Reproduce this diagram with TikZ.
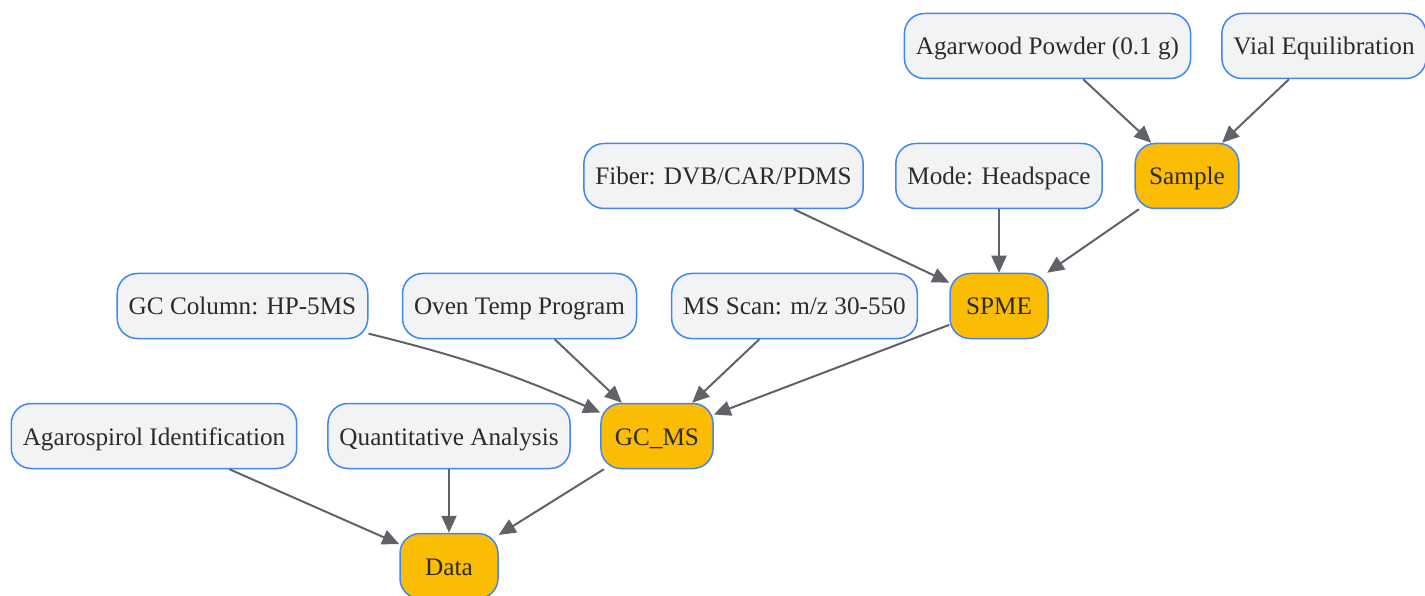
\documentclass[tikz,border=0pt]{standalone}
\usepackage{fontspec}
\setmainfont{Liberation Serif}
\usetikzlibrary{arrows.meta}

\definecolor{paramfill}{HTML}{F1F3F4}
\definecolor{stepfill}{HTML}{FBBC04}
\definecolor{boxline}{HTML}{4285F4}
\definecolor{edgegray}{HTML}{5F6368}
\definecolor{txt}{HTML}{2B2B2B}

\tikzset{
  param/.style={draw=boxline, fill=paramfill, line width=1.5pt, rounded corners=20pt,
    minimum height=65pt, inner xsep=11.5pt, text height=23pt, text depth=5pt, text=txt,
    font=\fontsize{25.2}{30}\selectfont},
  stage/.style={param, fill=stepfill, inner xsep=14pt, minimum width=98pt},
  flow/.style={draw=edgegray, line width=2pt, -{Triangle[length=17pt,width=15pt]}}
}

\begin{document}
\begin{tikzpicture}[x=1pt,y=1pt]% [ show background grid ]
\useasboundingbox (0,0) rectangle (1425,-596);

\node[param] (powder) at (1047.5,-46) {Agarwood Powder (0.1 g)};
\node[param] (vial) at (1324,-46) {Vial Equilibration};
\node[stage] (sample) at (1187,-176) {Sample};
\draw[flow] (powder) -- (sample);
\draw[flow] (vial) -- (sample);

\node[param] (fiber) at (723.5,-176) {Fiber: DVB/CAR/PDMS};
\node[param] (mode) at (999,-176) {Mode: Headspace};
\node[stage] (spme) at (999,-306) {SPME};
\draw[flow] (fiber) -- (spme);
\draw[flow] (mode) -- (spme);
\draw[flow] (sample) -- (spme);

\node[param] (column) at (242.5,-306) {GC Column: HP-5MS};
\node[param] (oven) at (519.5,-306) {Oven Temp Program};
\node[param] (scan) at (794.5,-306) {MS Scan: m/z 30-550};
\node[stage] (gcms) at (657,-436) {GC\_MS};
\draw[flow] (column) to[bend left=5] (gcms);
\draw[flow] (oven) -- (gcms);
\draw[flow] (scan) -- (gcms);
\draw[flow] (spme) -- (gcms);

\node[param] (ident) at (154,-436) {Agarospirol Identification};
\node[param] (quant) at (449,-436) {Quantitative Analysis};
\node[stage] (data) at (449,-566) {Data};
\draw[flow] (ident) -- (data);
\draw[flow] (quant) -- (data);
\draw[flow] (gcms) -- (data);

\end{tikzpicture}
\end{document}
